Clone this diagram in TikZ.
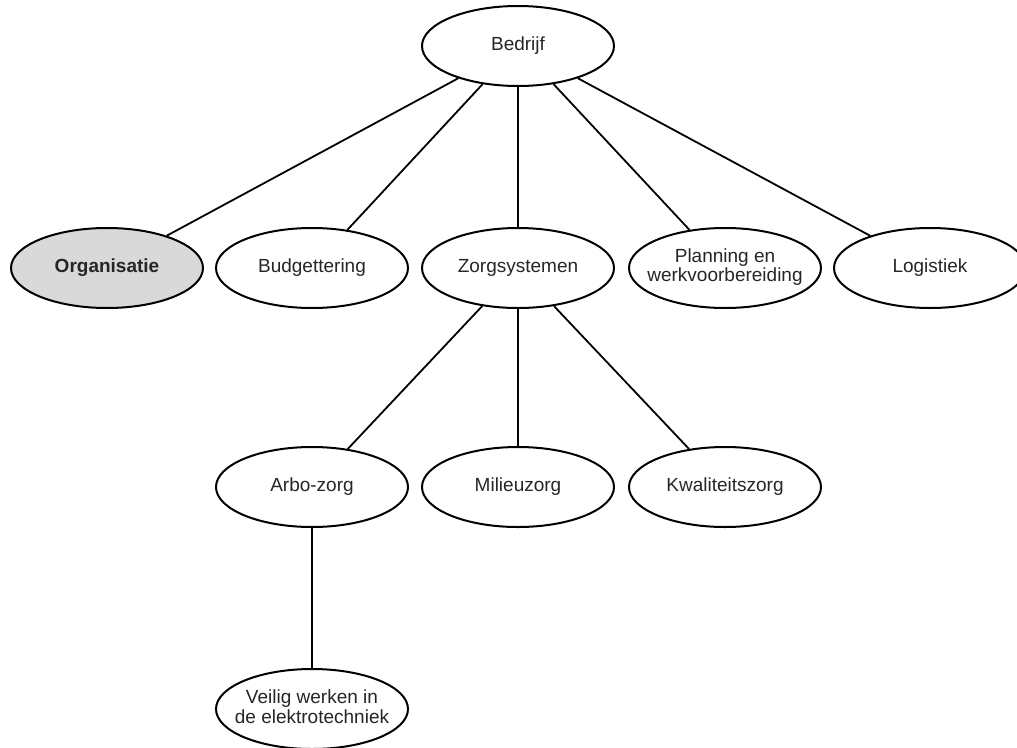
\documentclass[tikz,border=0pt]{standalone}
\usepackage{fontspec}
\setmainfont{Liberation Sans}
\usetikzlibrary{shapes.geometric}
\newcommand{\ctext}[1]{\makebox[0pt]{\begin{tabular}{@{}c@{}}#1\end{tabular}}}
\begin{document}
\begin{tikzpicture}[x=1pt,y=-1pt,
  oval/.style={ellipse, draw=black, line width=2pt, fill=white, minimum width=192pt, minimum height=80pt, inner sep=0pt, text=black!85,
    font=\fontsize{19}{20}\selectfont},
  hl/.style={fill=black!15, font=\fontsize{19}{20}\selectfont\bfseries},
  link/.style={draw=black, line width=1.8pt}]
\useasboundingbox (0,0) rectangle (1017,747);
\node[oval] (bed) at (518,46) {\ctext{Bedrijf}};
\node[oval,hl] (org) at (107,268) {\ctext{Organisatie}};
\node[oval] (bud) at (312,268) {\ctext{Budgettering}};
\node[oval] (zorg) at (518,268) {\ctext{Zorgsystemen}};
\node[oval] (plan) at (725,268) {\ctext{Planning en\\[-1pt] werkvoorbereiding}};
\node[oval] (log) at (930,268) {\ctext{Logistiek}};
\node[oval] (arbo) at (312,487) {\ctext{Arbo-zorg}};
\node[oval] (mil) at (518,487) {\ctext{Milieuzorg}};
\node[oval] (kwal) at (725,487) {\ctext{Kwaliteitszorg}};
\node[oval] (veil) at (312,709) {\ctext{Veilig werken in\\ de elektrotechniek}};
\foreach \a/\b in {bed/org,bed/bud,bed/zorg,bed/plan,bed/log,zorg/arbo,zorg/mil,zorg/kwal,arbo/veil}
  \draw[link] (\a) -- (\b);
\end{tikzpicture}
\end{document}
